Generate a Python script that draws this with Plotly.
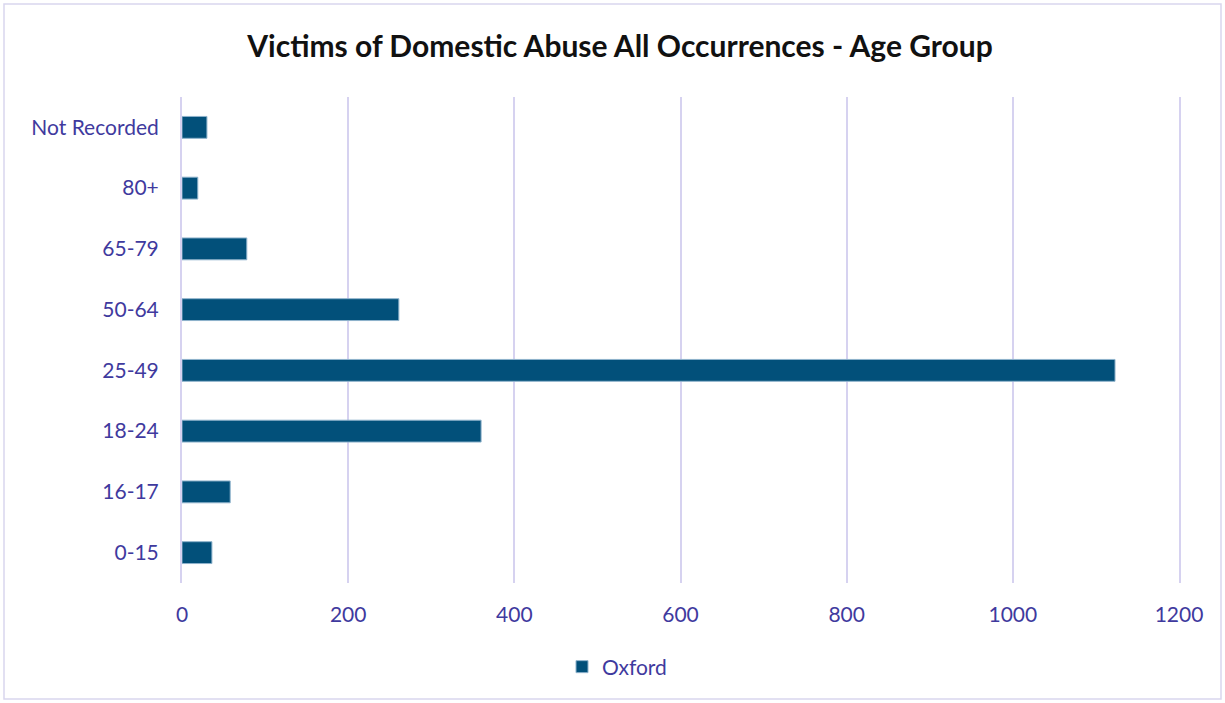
import plotly.graph_objects as go

# Age groups (bottom to top) and victim counts for Oxford
age_groups = ["0-15", "16-17", "18-24", "25-49", "50-64", "65-79", "80+", "Not Recorded"]
oxford_counts = [36, 58, 360, 1123, 261, 78, 19, 30]
x_ticks = [0, 200, 400, 600, 800, 1000, 1200]

W, H = 1225, 703
L, R, T, B = 182, 46, 97, 120
pw, ph = W - L - R, H - T - B

def px_x(px):
    return (px - L) / pw

def px_y(py):
    return (H - B - py) / ph

label_color = "#3f3a9e"
grid_color = "#d6d2f0"
font_family = "Lato, 'Open Sans', sans-serif"

fig = go.Figure()
fig.add_trace(go.Bar(
    y=age_groups,
    x=oxford_counts,
    orientation="h",
    name="Oxford",
    marker=dict(color="#02507a", line=dict(color="#8fb3cc", width=1)),
    showlegend=True,
))

fig.update_layout(
    width=W,
    height=H,
    margin=dict(l=L, r=R, t=T, b=B),
    paper_bgcolor="white",
    plot_bgcolor="white",
    bargap=0.64,
    title=dict(
        text="<b>Victims of Domestic Abuse All Occurrences - Age Group</b>",
        x=620 / W, xref="container", xanchor="center",
        y=1 - 46 / H, yref="container", yanchor="middle",
        font=dict(family=font_family, size=30, color="#111111"),
    ),
    xaxis=dict(
        range=[0, 1200],
        tickvals=x_ticks,
        showgrid=True,
        gridcolor=grid_color,
        gridwidth=2,
        zeroline=False,
        showline=False,
        ticks="outside",
        ticklen=13,
        tickcolor="rgba(0,0,0,0)",
        tickfont=dict(family=font_family, size=21, color=label_color),
    ),
    yaxis=dict(
        categoryorder="array",
        categoryarray=age_groups,
        showgrid=False,
        zeroline=False,
        showline=True,
        mirror=True,
        linecolor=grid_color,
        linewidth=2,
        ticks="outside",
        ticklen=17,
        tickcolor="rgba(0,0,0,0)",
        tickfont=dict(family=font_family, size=21, color=label_color),
    ),
    legend=dict(
        orientation="h",
        x=px_x(617), xanchor="center",
        y=px_y(667), yanchor="middle",
        font=dict(family=font_family, size=21, color=label_color),
        itemwidth=30,
    ),
    shapes=[
        dict(type="rect", xref="paper", yref="paper",
             x0=px_x(4), x1=px_x(1221), y0=px_y(699), y1=px_y(4),
             line=dict(color="#d9d6ee", width=1.5), fillcolor="rgba(0,0,0,0)",
             layer="below"),
    ],
)

fig.write_html("out.html")
